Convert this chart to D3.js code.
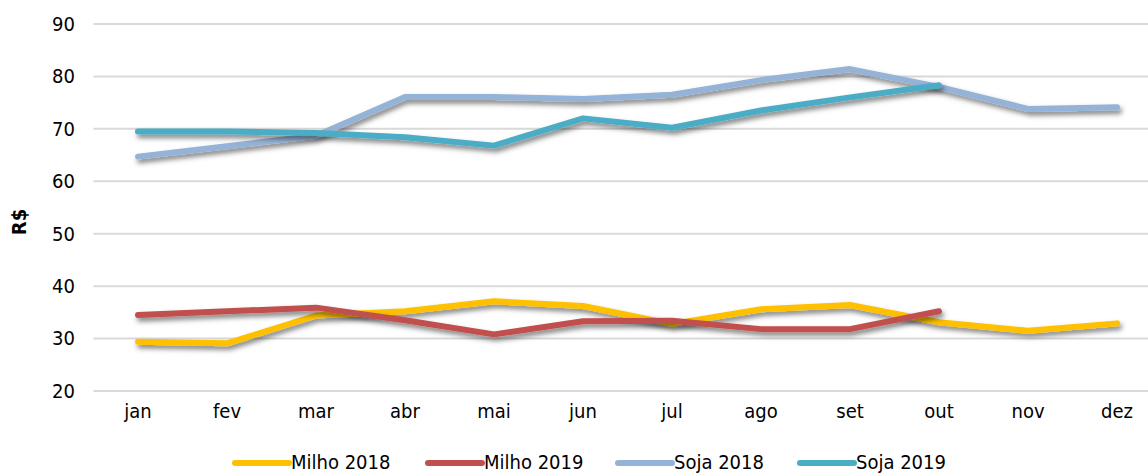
<!DOCTYPE html>
<html><head><meta charset="utf-8">
<script src="https://cdn.jsdelivr.net/npm/d3@7"></script>
<style>body{margin:0;background:#fff}svg{display:block}</style>
</head><body>
<svg id="c" width="1148" height="476"></svg>
<script>
const months = ["jan","fev","mar","abr","mai","jun","jul","ago","set","out","nov","dez"];
const yTicks = [20,30,40,50,60,70,80,90];
const seriesNames = ["Milho 2018","Milho 2019","Soja 2018","Soja 2019"];
const seriesColors = ["#FFC000","#C0504D","#95B3D7","#4BACC6"];
const milho2018 = [29.4,29.1,34.4,35.2,37.1,36.2,32.8,35.6,36.4,33.1,31.5,32.9];
const milho2019 = [34.5,35.2,35.9,33.5,30.8,33.3,33.4,31.8,31.8,35.2];
const soja2018 = [64.7,66.7,68.7,76.1,76.1,75.7,76.5,79.3,81.4,78.0,73.8,74.1];
const soja2019 = [69.5,69.5,69.2,68.4,66.8,72.0,70.2,73.5,76.0,78.3];
const seriesData = [milho2018, milho2019, soja2018, soja2019];

const svg = d3.select("#c");
const font = "'DejaVu Sans Condensed', 'DejaVu Sans', sans-serif";
const fs = 20;
const x = d3.scaleBand().domain(months).range([93.5, 93.5 + 12*89]);
const y = d3.scaleLinear().domain([20, 90]).range([391, 24]);

const defs = svg.append("defs");
const f = defs.append("filter").attr("id","sh").attr("x","-10%").attr("y","-50%").attr("width","120%").attr("height","200%");
f.append("feDropShadow").attr("dx",2).attr("dy",3.5).attr("stdDeviation",2.5).attr("flood-color","#000").attr("flood-opacity",0.5);

// gridlines
svg.append("g").selectAll("line").data(yTicks).join("line")
  .attr("x1", 93.5).attr("x2", 1148)
  .attr("y1", d => y(d)).attr("y2", d => y(d))
  .attr("stroke", "#d9d9d9").attr("stroke-width", 2);

// y axis labels
const yAxis = d3.axisLeft(y).tickValues(yTicks).tickSize(0).tickPadding(0);
const ga = svg.append("g").attr("transform","translate(75,0)").call(yAxis);
ga.select(".domain").remove();
ga.selectAll("text").attr("font-family", font).attr("font-size", fs).attr("fill","#000");

// x axis labels
const xAxis = d3.axisBottom(x).tickSize(0).tickPadding(0);
const gx = svg.append("g").attr("transform","translate(0,404)").call(xAxis);
gx.select(".domain").remove();
gx.selectAll("text").attr("font-family", font).attr("font-size", fs).attr("fill","#000").attr("dy","0.71em");

// y title
svg.append("text").attr("transform","translate(26,222) rotate(-90)")
  .attr("text-anchor","middle").attr("font-family", font).attr("font-size",fs)
  .attr("font-weight","bold").text("R$");

const line = d3.line().x((d,i) => x(months[i]) + x.bandwidth()/2).y(d => y(d));
svg.append("g").selectAll("path").data(seriesData).join("path")
  .attr("d", d => line(d)).attr("fill","none")
  .attr("stroke", (d,i) => seriesColors[i]).attr("stroke-width", 6)
  .attr("stroke-linecap","round").attr("stroke-linejoin","round")
  .attr("filter","url(#sh)");

// legend
const legX = [235, 428, 618, 800];
const lg = svg.append("g");
seriesNames.forEach((n,i) => {
  lg.append("line").attr("x1", legX[i]).attr("x2", legX[i]+54).attr("y1",463).attr("y2",463)
    .attr("stroke", seriesColors[i]).attr("stroke-width",6).attr("stroke-linecap","round");
  lg.append("text").attr("x", legX[i]+56).attr("y", 469).attr("font-family", font)
    .attr("font-size",fs).text(n);
});
</script>
</body></html>
